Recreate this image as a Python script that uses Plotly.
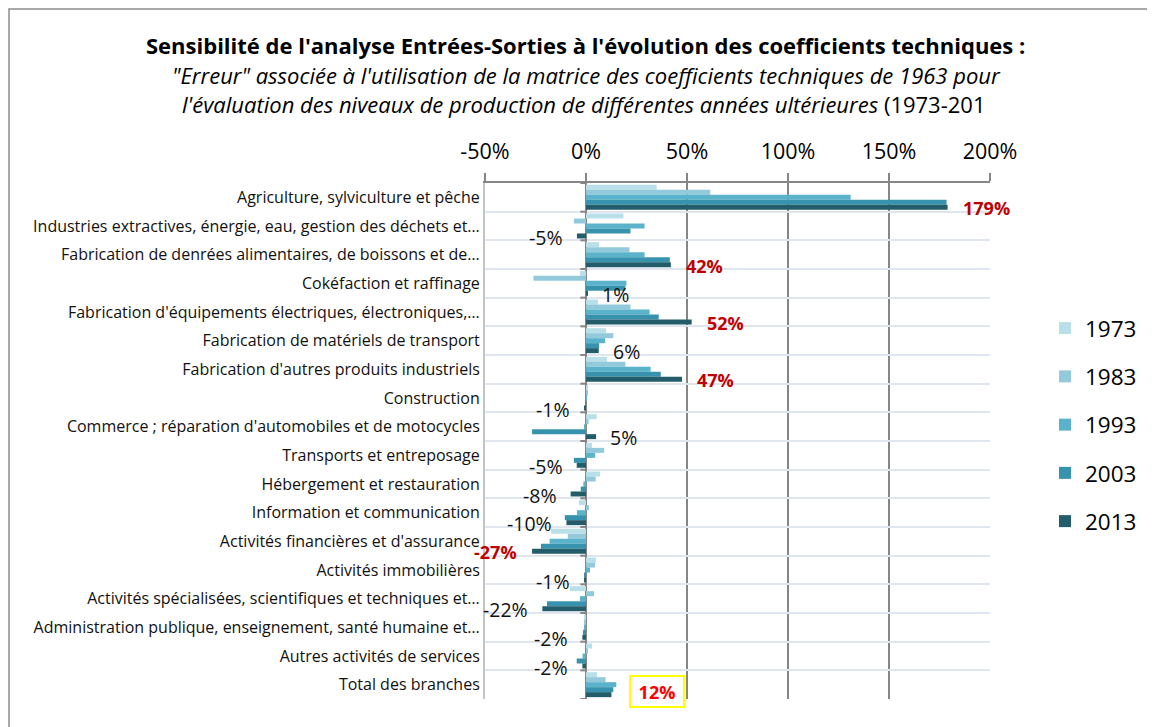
import plotly.graph_objects as go

categories = [
    "Agriculture, sylviculture et pêche",
    "Industries extractives, énergie, eau, gestion des déchets et…",
    "Fabrication de denrées alimentaires, de boissons et de…",
    "Cokéfaction et raffinage",
    "Fabrication d'équipements électriques, électroniques,…",
    "Fabrication de matériels de transport",
    "Fabrication d'autres produits industriels",
    "Construction",
    "Commerce ; réparation d'automobiles et de motocycles",
    "Transports et entreposage",
    "Hébergement et restauration",
    "Information et communication",
    "Activités financières et d'assurance",
    "Activités immobilières",
    "Activités spécialisées, scientifiques et techniques et…",
    "Administration publique, enseignement, santé humaine et…",
    "Autres activités de services",
    "Total des branches",
]

years = ["1973", "1983", "1993", "2003", "2013"]

v1973 = [35, 18.5, 6.5, -3, 6, 10, 10.5, 0.5, 5.3, 3, 7, -3.5, -17.3, 5, -8, -0.5, 3, 5.5]
v1983 = [61.5, -6, 21.5, -26, 22, 13.5, 19.5, 1, 1.3, 9, 4.8, 1.5, -9, 4.5, 4, -0.5, 0.5, 9.7]
v1993 = [131, 29, 29, 20, 31.5, 9.5, 32, 0.3, -0.5, 4.5, -1.3, -4.5, -18, 2, -3, -1, -1.7, 15]
v2003 = [178.5, 22, 41.5, 19.5, 36, 6.5, 37, -0.3, -26.7, -6, -2.6, -10.5, -22.3, -1, -19.3, -1.5, -4.6, 13.5]
v2013 = [179, -4.5, 42, 1, 52.3, 6.3, 47.5, -1, 5, -4.6, -7.6, -9.7, -26.7, -1, -21.6, -1.8, -1.8, 12.6]

labels_2013 = ["179%", "-5%", "42%", "1%", "52%", "6%", "47%", "-1%", "5%", "-5%",
               "-8%", "-10%", "-27%", "-1%", "-22%", "-2%", "-2%", "12%"]
# 0 = normal, 1 = red highlight, 2 = boxed highlight
label_style = [1, 0, 1, 0, 1, 0, 1, 0, 0, 0, 0, 0, 1, 0, 0, 0, 0, 2]

tick_vals = [-50, 0, 50, 100, 150, 200]
tick_text = ["-50%", "0%", "50%", "100%", "150%", "200%"]

colors = ["#b9e0e8", "#93cadb", "#5ab3cb", "#3793ad", "#235c6b"]
series = [v1973, v1983, v1993, v2003, v2013]

FONT = "Open Sans"

# page body adds an 8px offset; work in figure coordinates
OFF = 8
W, H = 1155 - OFF, 727 - OFF
L, T = 485 - OFF, 183 - OFF
PR, PB = 990 - OFF, 699 - OFF
R, B = W - PR, H - PB
pw, ph = PR - L, PB - T


def px(x):
    return (x - OFF - L) / pw


def py(y):
    return (PB - (y - OFF)) / ph


fig = go.Figure()
for name, vals, col in zip(years, series, colors):
    fig.add_trace(go.Bar(
        x=vals, y=categories, orientation="h", name=name,
        marker=dict(color=col, line=dict(width=0)),
        legendgroup=name,
    ))

# data labels for 2013
for cat, val, txt, st in zip(categories, v2013, labels_2013, label_style):
    pos = val >= 0
    if st == 0:
        fnt = dict(family=FONT, size=19.5, color="#111111")
        fig.add_annotation(x=val, y=cat, text=txt, showarrow=False,
                           xanchor="left" if pos else "right",
                           xshift=12 if pos else -12, yshift=-11, font=fnt)
    elif st == 1:
        fnt = dict(family=FONT, size=18, color="#c00000")
        fig.add_annotation(x=val, y=cat, text="<b>" + txt + "</b>", showarrow=False,
                           xanchor="left" if pos else "right",
                           xshift=13 if pos else -13, yshift=-11, font=fnt)
    else:
        fnt = dict(family=FONT, size=18, color="#ff0000")
        fig.add_annotation(x=val, y=cat, text="<b>" + txt + "</b>", showarrow=False,
                           xanchor="left", xshift=18, yshift=-7, font=fnt,
                           bordercolor="#ffff00", borderwidth=2, width=50, height=27,
                           borderpad=1, align="center", valign="middle")

# small category tick marks on the 0 axis
for i in range(len(categories) + 1):
    fig.add_shape(type="line", xref="x", yref="y", x0=-2.8, x1=0,
                  y0=i - 0.5, y1=i - 0.5, line=dict(color="#868686", width=2))

# outer chart border (at the edges of the figure)
fig.add_shape(type="rect", xref="paper", yref="paper",
              x0=px(OFF + 1), x1=px(1150), y0=py(745), y1=py(OFF + 1),
              line=dict(color="#8c8c8c", width=1.5), fillcolor="rgba(0,0,0,0)", layer="above")

# titles
fig.add_annotation(xref="paper", yref="paper", x=px(585), y=py(45),
                   text="<b>Sensibilité de l'analyse Entrées-Sorties à l'évolution des coefficients techniques :</b>",
                   showarrow=False, xanchor="center", yanchor="middle",
                   font=dict(family=FONT, size=22, color="#000000"))
fig.add_annotation(xref="paper", yref="paper", x=px(586), y=py(75),
                   text="<i>\"Erreur\" associée à l'utilisation de la matrice des coefficients techniques de 1963 pour</i>",
                   showarrow=False, xanchor="center", yanchor="middle",
                   font=dict(family=FONT, size=22, color="#000000"))
fig.add_annotation(xref="paper", yref="paper", x=px(584), y=py(104),
                   text="<i>l'évaluation des niveaux de production de différentes années ultérieures</i> (1973-201",
                   showarrow=False, xanchor="center", yanchor="middle",
                   font=dict(family=FONT, size=22, color="#000000"))

fig.update_layout(
    width=W, height=H,
    margin=dict(l=L, r=R, t=T, b=B, autoexpand=False),
    paper_bgcolor="white", plot_bgcolor="white",
    barmode="group", bargap=0.13, bargroupgap=0,
    font=dict(family=FONT, color="#000000"),
    legend=dict(x=px(1045), y=py(307), xanchor="left", yanchor="top",
                font=dict(family=FONT, size=22.5, color="#000000"),
                traceorder="grouped", tracegroupgap=16, bgcolor="rgba(0,0,0,0)"),
    showlegend=True,
)
fig.update_xaxes(
    side="top", range=[-50, 200], tickvals=tick_vals, ticktext=tick_text,
    showgrid=True, gridcolor="#868686", gridwidth=2,
    zeroline=True, zerolinecolor="#868686", zerolinewidth=2,
    showline=True, linecolor="#868686", linewidth=2,
    ticks="outside", ticklen=8, tickcolor="#868686", tickwidth=2,
    tickfont=dict(family=FONT, size=21.5, color="#000000"), ticklabelstandoff=5,
)
fig.update_yaxes(
    categoryorder="array", categoryarray=categories,
    range=[len(categories) - 0.5, -0.5], autorange=False,
    tickson="boundaries", showgrid=True, gridcolor="#dfe6ef", gridwidth=2,
    showline=True, linecolor="#c4c4c4", linewidth=2, mirror=False,
    ticks="", tickfont=dict(family=FONT, size=16, color="#111111"),
    ticklabelstandoff=0,
)

fig.write_html("out.html")
